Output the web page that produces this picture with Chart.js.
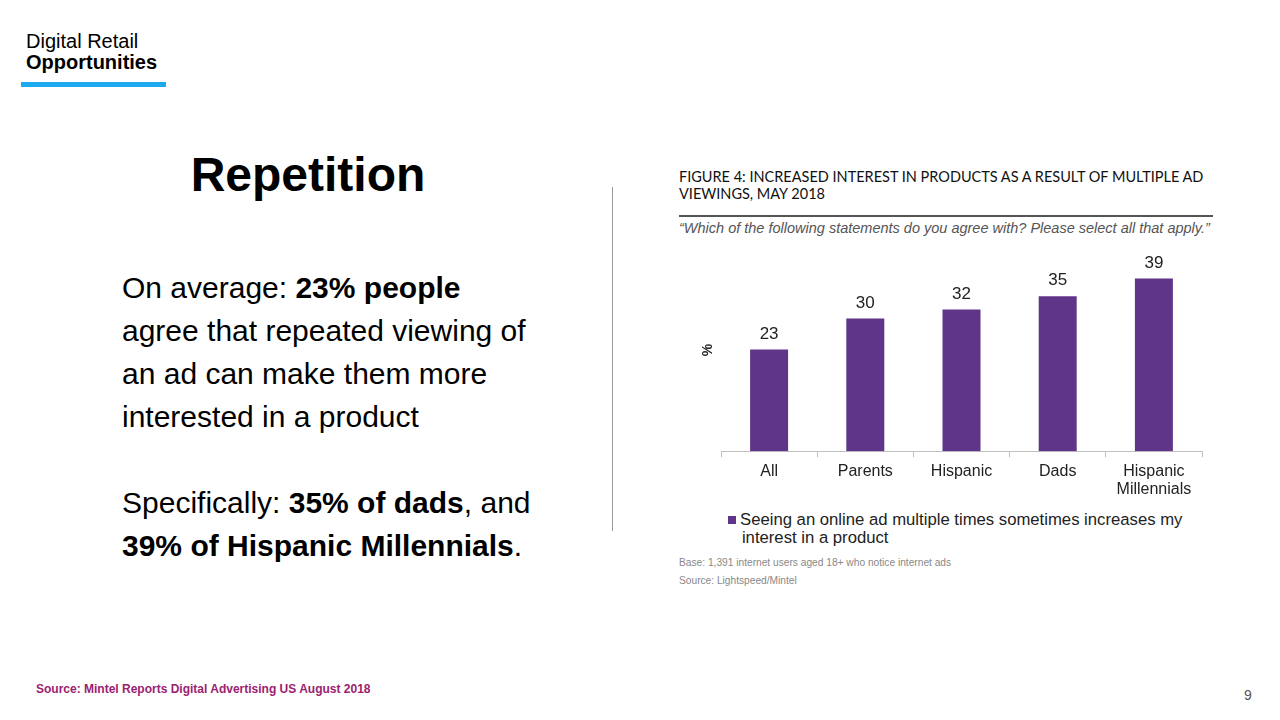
<!DOCTYPE html>
<html>
<head>
<meta charset="utf-8">
<script src="https://cdn.jsdelivr.net/npm/chart.js@4.4.0/dist/chart.umd.min.js"></script>
<style>
  body { margin: 0; width: 1280px; height: 720px; background: #fff; position: relative; overflow: hidden; font-family: "Liberation Sans", Arial, sans-serif; color: #000; }
  .abs { position: absolute; white-space: nowrap; }
  #hdr1 { left: 26px; top: 30px; font-size: 20px; }
  #hdr2 { left: 26px; top: 51px; font-size: 20px; font-weight: bold; }
  #hdrbar { left: 21px; top: 82px; width: 145px; height: 5px; background: #1eaaf1; }
  #title { left: 0; width: 616px; text-align: center; top: 147px; font-size: 48px; font-weight: bold; }
  .body { left: 122px; font-size: 30px; }
  #vline { left: 612px; top: 187px; width: 1px; height: 344px; background: #999; }
  #fig { left: 679px; top: 168px; font-family: Lato, sans-serif; font-size: 14.5px; line-height: 17px; color: #111; white-space: normal; width: 545px; }
  #rule { left: 679px; top: 215px; width: 534px; height: 2px; background: #555; }
  #q { left: 679px; top: 220px; font-size: 14.5px; font-style: italic; color: #555; }
  #chartbox { left: 680px; top: 240px; width: 540px; height: 264px; }
  #leg { left: 728px; top: 511px; font-size: 16.7px; line-height: 18px; color: #222; }
  #legsq { display: inline-block; width: 8px; height: 8px; background: #5f3589; margin-right: 4px; vertical-align: 1px; }
  .note { left: 679px; font-size: 10.2px; color: #888; }
  #src { left: 36px; top: 682px; font-size: 12px; font-weight: bold; color: #9b2271; }
  #pg { left: 1244px; top: 687px; font-size: 14px; color: #555; }
</style>
</head>
<body>
<div class="abs" id="hdr1">Digital Retail</div>
<div class="abs" id="hdr2">Opportunities</div>
<div class="abs" id="hdrbar"></div>
<div class="abs" id="title">Repetition</div>
<div class="abs body" style="top:271px">On average: <b>23% people</b></div>
<div class="abs body" style="top:314px">agree that repeated viewing of</div>
<div class="abs body" style="top:357px">an ad can make them more</div>
<div class="abs body" style="top:400px">interested in a product</div>
<div class="abs body" style="top:486px">Specifically: <b>35% of dads</b>, and</div>
<div class="abs body" style="top:529px"><b>39% of Hispanic Millennials</b>.</div>
<div class="abs" id="vline"></div>
<div class="abs" id="fig">FIGURE 4: INCREASED INTEREST IN PRODUCTS AS A RESULT OF MULTIPLE AD VIEWINGS, MAY 2018</div>
<div class="abs" id="rule"></div>
<div class="abs" id="q">“Which of the following statements do you agree with? Please select all that apply.”</div>
<div class="abs" id="chartbox"><canvas id="chart-canvas"></canvas></div>
<div class="abs" id="leg"><span id="legsq"></span>Seeing an online ad multiple times sometimes increases my<br>&nbsp;&nbsp;&nbsp;interest in a product</div>
<div class="abs note" style="top:557px">Base: 1,391 internet users aged 18+ who notice internet ads</div>
<div class="abs note" style="top:575px">Source: Lightspeed/Mintel</div>
<div class="abs" id="src">Source: Mintel Reports Digital Advertising US August 2018</div>
<div class="abs" id="pg">9</div>
<script>
const categories = ["All", "Parents", "Hispanic", "Dads", ["Hispanic", "Millennials"]];
const seriesLabel = "Seeing an online ad multiple times sometimes increases my interest in a product";
const values = [23, 30, 32, 35, 39];

const BAR_COLOR = "#5f3589";
const AXIS_COLOR = "#bfbfbf";

// value labels above bars + rotated "%" at the left
const labelPlugin = {
  id: "barLabels",
  afterDatasetsDraw(chart) {
    const ctx = chart.ctx;
    const meta = chart.getDatasetMeta(0);
    ctx.save();
    ctx.font = "17px 'Liberation Sans', Arial, sans-serif";
    ctx.fillStyle = "#222";
    ctx.textAlign = "center";
    ctx.textBaseline = "bottom";
    meta.data.forEach((bar, i) => {
      ctx.fillText(values[i], bar.x, bar.y - 7);
    });
    const area = chart.chartArea;
    ctx.translate(area.left - 13, 110);
    ctx.rotate(-Math.PI / 2);
    ctx.font = "bold 14px 'Liberation Sans', Arial, sans-serif";
    ctx.textBaseline = "middle";
    ctx.fillText("%", 0, 0);
    ctx.restore();
  },
};

const ctx = document.getElementById("chart-canvas").getContext("2d");
const config = {
  type: "bar",
  data: {
    labels: categories,
    datasets: [
      {
        label: seriesLabel,
        data: values,
        backgroundColor: BAR_COLOR,
        categoryPercentage: 1,
        barPercentage: 0.395,
      },
    ],
  },
  options: {
    responsive: true,
    maintainAspectRatio: false,
    animation: false,
    layout: { padding: { left: 41, right: 18, top: 12, bottom: 0 } },
    plugins: {
      legend: { display: false },
      tooltip: { enabled: false },
    },
    scales: {
      x: {
        grid: {
          display: true,
          offset: true,
          drawOnChartArea: false,
          drawTicks: true,
          tickLength: 6,
          color: AXIS_COLOR,
        },
        border: { display: true, color: AXIS_COLOR },
        ticks: {
          color: "#222",
          font: { family: "'Liberation Sans', Arial, sans-serif", size: 16, lineHeight: 1.15 },
          padding: 5,
          maxRotation: 0,
        },
      },
      y: {
        display: false,
        min: 0,
        max: 45,
      },
    },
  },
  plugins: [labelPlugin],
};
const myChart = new Chart(ctx, config);
</script>
</body>
</html>
